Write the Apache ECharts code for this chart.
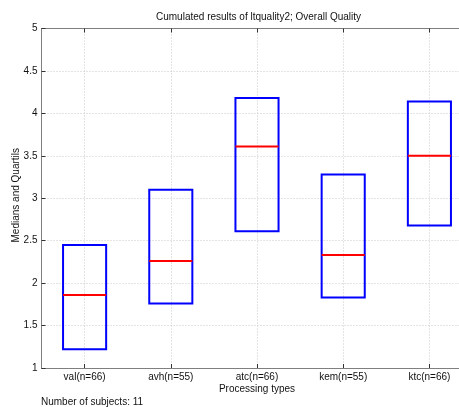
<!DOCTYPE html>
<html>
<head>
<meta charset="utf-8">
<script src="https://cdn.jsdelivr.net/npm/echarts@6/dist/echarts.min.js"></script>
<style>
  html, body { margin: 0; padding: 0; background: #fff; }
  #chart { width: 459px; height: 407px; }
</style>
</head>
<body>
<div id="chart"></div>
<script>
// Processing types on the x axis
const categories = ['val(n=66)', 'avh(n=55)', 'atc(n=66)', 'kem(n=55)', 'ktc(n=66)'];
// Quartiles and medians of the overall quality scores
const lowerQuartile = [1.22, 1.76, 2.61, 1.83, 2.68];
const medians = [1.86, 2.26, 3.61, 2.33, 3.50];
const upperQuartile = [2.45, 3.10, 4.18, 3.28, 4.14];
// Value axis ticks
const yTicks = [1, 1.5, 2, 2.5, 3, 3.5, 4, 4.5, 5];

const FONT = 'Liberation Sans, Arial, Helvetica, sans-serif';
const AXIS_COLOR = '#7f7f7f';
const TEXT_COLOR = '#111';
const GRID_COLOR = '#c8c8c8';

const boxData = categories.map((c, i) => [i, lowerQuartile[i], medians[i], upperQuartile[i]]);

const chart = echarts.init(document.getElementById('chart'), null, { renderer: 'canvas' });

chart.setOption({
  animation: false,
  backgroundColor: '#fff',
  textStyle: { fontFamily: FONT },
  // the plot box runs past the right edge of the canvas
  grid: {
    left: 41.5, top: 28.5, width: 431, height: 339.5,
    containLabel: false, outerBoundsMode: 'none'
  },
  xAxis: [{
    type: 'category',
    data: categories,
    boundaryGap: true,
    name: 'Processing types',
    nameLocation: 'middle',
    nameGap: 16,
    nameMoveOverlap: false,
    nameTextStyle: { color: TEXT_COLOR, fontSize: 10, fontFamily: FONT },
    axisLine: { lineStyle: { color: AXIS_COLOR, width: 1 } },
    axisTick: { show: true, inside: true, length: 4, alignWithLabel: true, lineStyle: { color: '#333' } },
    axisLabel: { color: TEXT_COLOR, fontSize: 10, fontFamily: FONT, margin: 4 },
    // dotted vertical grid lines through each category centre
    splitLine: { show: true, alignWithLabel: true, lineStyle: { color: GRID_COLOR, type: [1, 2], width: 1 } }
  }, {
    type: 'category',
    data: categories,
    position: 'top',
    boundaryGap: true,
    axisLine: { lineStyle: { color: AXIS_COLOR, width: 1 } },
    axisTick: { show: true, inside: true, length: 4, alignWithLabel: true, lineStyle: { color: '#333' } },
    axisLabel: { show: false },
    splitLine: { show: false }
  }],
  yAxis: {
    type: 'value',
    min: 1,
    max: 5,
    interval: 0.5,
    name: 'Medians and Quartils',
    nameLocation: 'middle',
    nameRotate: 90,
    nameGap: 20,
    nameMoveOverlap: false,
    nameTextStyle: { color: TEXT_COLOR, fontSize: 10, fontFamily: FONT, padding: [0, 0, 0, 6] },
    axisLine: { show: true, lineStyle: { color: AXIS_COLOR, width: 1 } },
    axisTick: { show: true, inside: true, length: 4, lineStyle: { color: '#333' } },
    axisLabel: {
      color: TEXT_COLOR, fontSize: 10, fontFamily: FONT, margin: 4,
      formatter: v => (yTicks.includes(v) ? String(v) : '')
    },
    splitLine: { show: true, lineStyle: { color: GRID_COLOR, type: [1, 2], width: 1 } }
  },
  series: [{
    // quartile boxes with median lines
    type: 'custom',
    xAxisIndex: 0,
    data: boxData,
    encode: { x: 0, y: [1, 2, 3] },
    renderItem: function (params, api) {
      const idx = api.value(0);
      const q1 = api.coord([idx, api.value(1)]);
      const med = api.coord([idx, api.value(2)]);
      const q3 = api.coord([idx, api.value(3)]);
      const half = api.size([1, 0])[0] * 0.25;
      return {
        type: 'group',
        children: [{
          type: 'rect',
          shape: { x: q1[0] - half, y: q3[1], width: half * 2, height: q1[1] - q3[1] },
          style: { fill: 'none', stroke: '#0000ff', lineWidth: 2 }
        }, {
          type: 'line',
          shape: { x1: med[0] - half, y1: med[1], x2: med[0] + half, y2: med[1] },
          style: { stroke: '#ff0000', lineWidth: 2 }
        }]
      };
    }
  }],
  graphic: [{
    type: 'text',
    left: 257 - 101,
    top: 12,
    style: {
      text: 'Cumulated results of ltquality2; Overall Quality',
      fill: TEXT_COLOR, font: '10px ' + FONT
    }
  }, {
    type: 'text',
    left: 41,
    top: 397,
    style: {
      text: 'Number of subjects: 11',
      fill: TEXT_COLOR, font: '10px ' + FONT
    }
  }]
});
</script>
</body>
</html>
